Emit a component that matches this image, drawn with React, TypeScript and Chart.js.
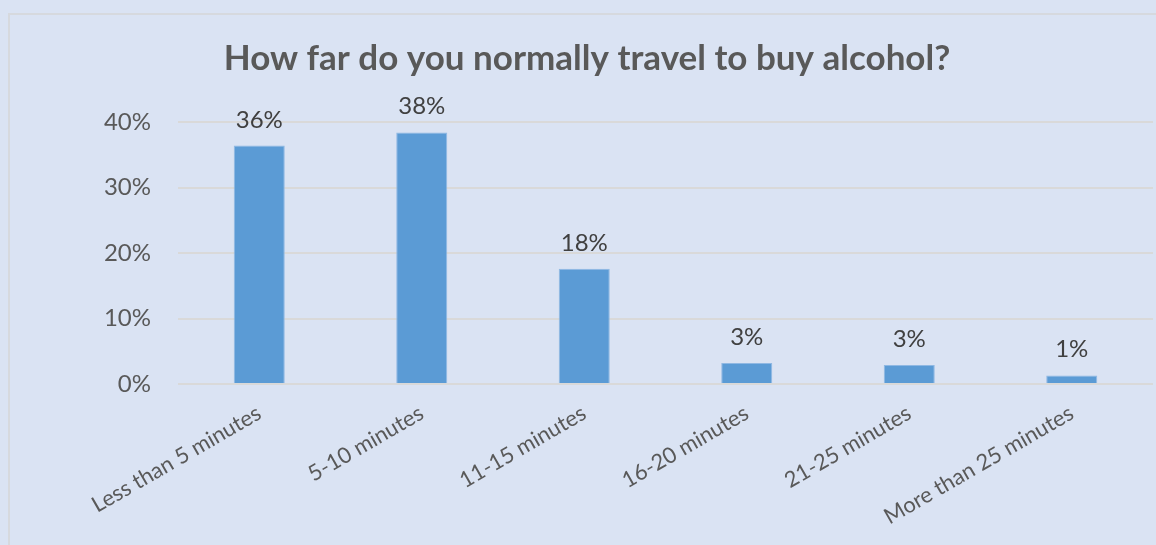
import React, { useEffect, useRef } from "react";
import { Chart, registerables } from "chart.js";

Chart.register(...registerables);

const categories = [
  "Less than 5 minutes",
  "5-10 minutes",
  "11-15 minutes",
  "16-20 minutes",
  "21-25 minutes",
  "More than 25 minutes",
];
const values = [36.4, 38.4, 17.6, 3.2, 2.9, 1.3];
const valueLabels = ["36%", "38%", "18%", "3%", "3%", "1%"];
const yTickMin = 0;
const yTickMax = 40;
const yTickStep = 10;
const titleText = "How far do you normally travel to buy alcohol?";

const FONT = "Lato, 'Open Sans', sans-serif";
const TEXT = "#595959";
const BG = "#dae3f3";

const labelPlugin = {
  id: "valueLabels",
  afterDatasetsDraw(chart: any) {
    const ctx = chart.ctx;
    const meta = chart.getDatasetMeta(0);
    ctx.save();
    ctx.font = `24px ${FONT}`;
    ctx.fillStyle = "#404040";
    ctx.textAlign = "center";
    ctx.textBaseline = "alphabetic";
    meta.data.forEach((bar: any, i: number) => {
      ctx.fillText(valueLabels[i], bar.x, bar.y - 18);
    });
    ctx.restore();
  },
};

export default function App() {
  const ref = useRef<HTMLCanvasElement>(null);
  useEffect(() => {
    document.body.style.margin = "0";
    document.body.style.overflow = "hidden";
    document.body.style.background = BG;
    const chart = new Chart(ref.current!, {
      type: "bar",
      data: {
        labels: categories,
        datasets: [
          {
            data: values,
            backgroundColor: "#5b9bd5",
            borderColor: "#8fb8e3",
            borderWidth: 1,
            categoryPercentage: 1,
            barPercentage: 0.314,
          },
        ],
      },
      options: {
        animation: false,
        responsive: false,
        maintainAspectRatio: false,
        layout: { padding: { left: 13, right: 13, top: 0, bottom: 0 } },
        plugins: {
          legend: { display: false },
          tooltip: { enabled: false },
          title: {
            display: true,
            text: titleText,
            color: TEXT,
            font: { family: FONT, size: 35, weight: "bold", lineHeight: 1.2 },
            padding: { top: 24, bottom: 42 },
          },
        },
        scales: {
          x: {
            grid: { display: false },
            border: { display: false },
            ticks: {
              color: TEXT,
              font: { family: FONT, size: 22 },
              maxRotation: 30,
              minRotation: 30,
              padding: 8,
              autoSkip: false,
            },
            afterFit(scale: any) {
              scale.height = 161;
            },
          },
          y: {
            min: yTickMin,
            max: yTickMax,
            border: { display: false },
            grid: { color: "#d9d9d9", lineWidth: 2, drawTicks: false },
            ticks: {
              stepSize: yTickStep,
              color: TEXT,
              font: { family: FONT, size: 24 },
              padding: 27,
              callback: (v: any) => `${v}%`,
            },
            afterFit(scale: any) {
              scale.width = 157;
            },
          },
        },
      },
      plugins: [labelPlugin],
    });
    return () => chart.destroy();
  }, []);

  return (
    <div
      style={{
        position: "relative",
        width: 1156,
        height: 545,
        overflow: "hidden",
        background: BG,
      }}
    >
      <div
        style={{
          position: "absolute",
          left: 8,
          top: 13,
          width: 1200,
          height: 600,
          borderTop: "2px solid #d6d9de",
          borderLeft: "2px solid #d6d9de",
        }}
      />
      <canvas
        ref={ref}
        width={1158}
        height={531}
        style={{ position: "absolute", left: 8, top: 14, width: 1158, height: 531 }}
      />
    </div>
  );
}
